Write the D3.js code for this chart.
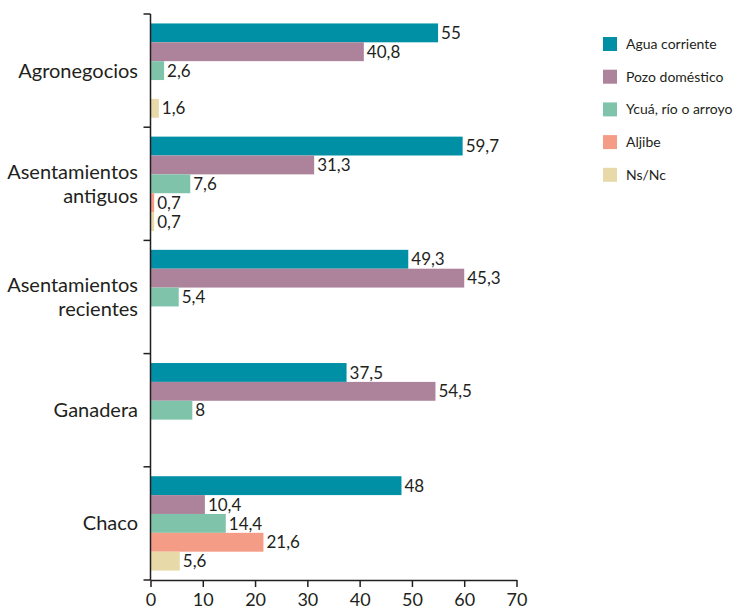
<!DOCTYPE html>
<html>
<head>
<meta charset="utf-8">
<script src="https://cdn.jsdelivr.net/npm/d3@7"></script>
<style>
  body { margin: 0; background: #fff; }
  text { font-family: Lato, "Open Sans", sans-serif; fill: #231f20; }
</style>
</head>
<body>
<svg id="chart" width="747" height="612"></svg>
<script>
const categories = [["Agronegocios"], ["Asentamientos", "antiguos"], ["Asentamientos", "recientes"], ["Ganadera"], ["Chaco"]];
const series = ["Agua corriente", "Pozo doméstico", "Ycuá, río o arroyo", "Aljibe", "Ns/Nc"];
const colors = ["#0090a6", "#ad839b", "#7fc4aa", "#f59c87", "#e8daa8"];
// bar lengths as drawn in the original (null = no bar)
const agua = [55, 59.7, 49.3, 37.5, 48];
const pozo = [40.8, 31.3, 60, 54.5, 10.4];
const ycua = [2.6, 7.6, 5.4, 8, 14.4];
const aljibe = [null, 0.7, null, null, 21.6];
const nsnc = [1.6, 0.7, null, null, 5.6];
// the original prints 45,3 next to a bar drawn to 60
const labelOverride = { "1-2": "45,3" };
const xTicks = [0, 10, 20, 30, 40, 50, 60, 70];

const values = [agua, pozo, ycua, aljibe, nsnc];
const svg = d3.select("#chart");

const x = d3.scaleLinear().domain([0, 70]).range([150.5, 516.5]);
const y0 = d3.scaleBand().domain(d3.range(categories.length)).range([14, 580]);
const y1 = d3.scaleBand().domain(d3.range(series.length)).range([0, y0.bandwidth()]).paddingOuter(0.5);

const fmt = v => String(v).replace(".", ",");

const groups = svg.selectAll("g.grp")
  .data(categories)
  .enter().append("g")
  .attr("class", "grp")
  .attr("transform", (d, i) => `translate(0,${y0(i)})`);

groups.each(function(cat, gi) {
  const g = d3.select(this);
  const rows = series.map((s, si) => ({ si, v: values[si][gi], key: si + "-" + gi })).filter(d => d.v != null);
  g.selectAll("rect")
    .data(rows)
    .enter().append("rect")
    .attr("x", x(0))
    .attr("y", d => y1(d.si))
    .attr("width", d => x(d.v) - x(0))
    .attr("height", y1.bandwidth())
    .attr("fill", d => colors[d.si]);
  g.selectAll("text.val")
    .data(rows)
    .enter().append("text")
    .attr("class", "val")
    .attr("x", d => x(d.v) + 3)
    .attr("y", d => y1(d.si) + y1.bandwidth() / 2)
    .attr("dy", "0.36em")
    .attr("font-size", 17)
    .text(d => labelOverride[d.key] || fmt(d.v));
  // category label
  const lbl = g.append("text")
    .attr("text-anchor", "end")
    .attr("font-size", 20)
    .attr("x", 138);
  const n = cat.length;
  cat.forEach((line, li) => {
    lbl.append("tspan")
      .attr("x", 138)
      .attr("y", y0.bandwidth() / 2 + (li - (n - 1) / 2) * 24)
      .attr("dy", "0.35em")
      .text(line);
  });
});

// y axis with ticks at group boundaries
const yAxis = svg.append("g");
yAxis.append("line")
  .attr("x1", x(0)).attr("x2", x(0))
  .attr("y1", 14).attr("y2", 580)
  .attr("stroke", "#231f20").attr("stroke-width", 1.5);
yAxis.selectAll("line.tk")
  .data(d3.range(categories.length + 1))
  .enter().append("line")
  .attr("class", "tk")
  .attr("x1", x(0) - 7).attr("x2", x(0))
  .attr("y1", i => i < categories.length ? y0(i) : 580)
  .attr("y2", i => i < categories.length ? y0(i) : 580)
  .attr("stroke", "#231f20").attr("stroke-width", 1.5);

// x axis
const xAxis = d3.axisBottom(x).tickValues(xTicks).tickSize(7).tickSizeOuter(0).tickFormat(d3.format("d"));
const xg = svg.append("g")
  .attr("transform", "translate(0,580)")
  .call(xAxis);
xg.select(".domain").attr("stroke", "#231f20").attr("stroke-width", 1.5);
xg.selectAll(".tick line").attr("stroke", "#231f20").attr("stroke-width", 1.5);
xg.selectAll(".tick text")
  .attr("font-size", 18)
  .attr("font-family", "Lato, 'Open Sans', sans-serif")
  .attr("fill", "#231f20")
  .attr("y", 13);

// legend
const legend = svg.append("g").attr("transform", "translate(603,0)");
const items = legend.selectAll("g")
  .data(series)
  .enter().append("g")
  .attr("transform", (d, i) => `translate(0,${44 + i * 32.7})`);
items.append("rect")
  .attr("x", 0).attr("y", -7)
  .attr("width", 14).attr("height", 14)
  .attr("fill", (d, i) => colors[i]);
items.append("text")
  .attr("x", 23)
  .attr("dy", "0.35em")
  .attr("font-size", 14)
  .text(d => d);
</script>
</body>
</html>
